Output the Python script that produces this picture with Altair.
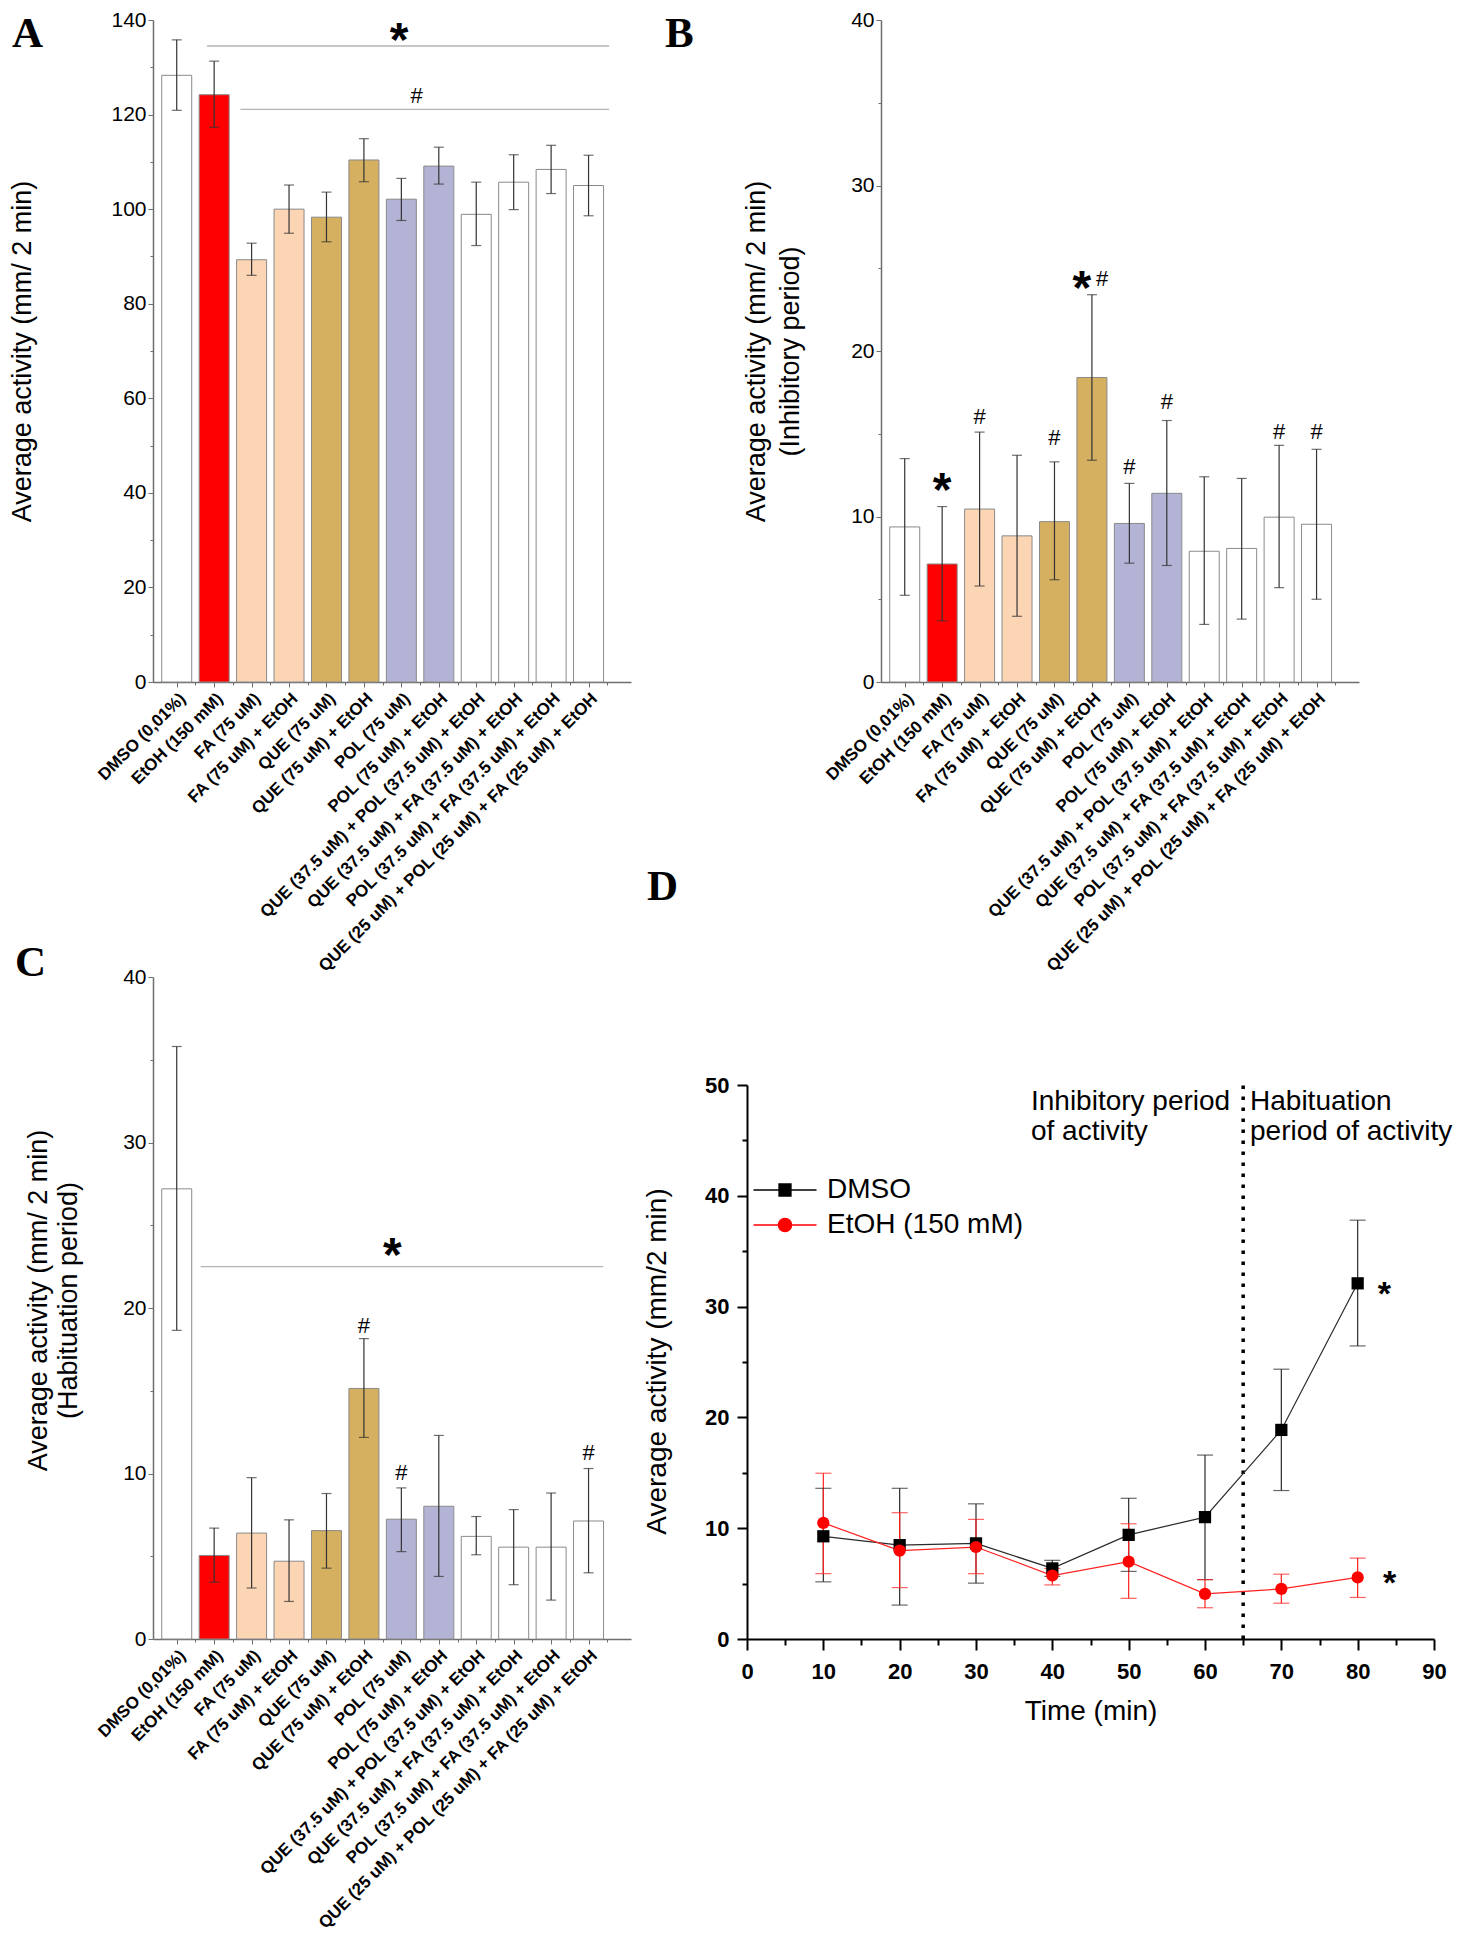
import json
import altair as alt
import pandas as pd

# ---------------- shared categories ----------------
CATEGORIES = [
    "DMSO (0,01%)", "EtOH (150 mM)", "FA (75 uM)", "FA (75 uM) + EtOH",
    "QUE (75 uM)", "QUE (75 uM) + EtOH", "POL (75 uM)", "POL (75 uM) + EtOH",
    "QUE (37.5 uM) + POL (37.5 uM) + EtOH", "QUE (37.5 uM) + FA (37.5 uM) + EtOH",
    "POL (37.5 uM) + FA (37.5 uM) + EtOH", "QUE (25 uM) + POL (25 uM) + FA (25 uM) + EtOH",
]
POSITIONS = list(range(1, 13))
BAR_FILLS = ["#ffffff", "#ff0000", "#fcd5b5", "#fcd5b5", "#d4b060", "#d4b060",
             "#b3b3d6", "#b3b3d6", "#ffffff", "#ffffff", "#ffffff", "#ffffff"]

# ---------------- panel A ----------------
A_MEAN = [128.3, 124.2, 89.3, 100.0, 98.3, 110.4, 102.1, 109.1, 98.9, 105.7, 108.4, 105.0]
A_HI = [135.8, 131.3, 92.8, 105.1, 103.6, 114.9, 106.5, 113.1, 105.7, 111.5, 113.5, 111.4]
A_LO = [120.9, 117.3, 86.0, 94.9, 93.1, 105.8, 97.6, 105.3, 92.3, 99.9, 103.3, 98.6]
A_LINE_X1 = [1.81, 2.70]
A_LINE_X2 = [12.55, 12.55]
A_LINE_Y = [134.5, 121.1]
A_STAR_X = [6.94]
A_STAR_Y = [137.5]
A_HASH_X = [7.41]
A_HASH_Y = [124.2]

# ---------------- panel B ----------------
B_MEAN = [9.37, 7.13, 10.45, 8.83, 9.69, 18.4, 9.58, 11.4, 7.9, 8.07, 9.96, 9.53]
B_HI = [13.5, 10.6, 15.1, 13.7, 13.3, 23.4, 12.0, 15.8, 12.4, 12.3, 14.3, 14.06]
B_LO = [5.24, 3.7, 5.8, 3.97, 6.18, 13.4, 7.18, 7.04, 3.48, 3.8, 5.7, 5.0]
B_STAR_X = [2.0, 5.73]
B_STAR_Y = [12.1, 24.3]
B_HASH_X = [3, 5, 6.27, 7, 8, 11, 12]
B_HASH_Y = [16.1, 14.8, 24.4, 13.06, 17.0, 15.17, 15.17]

# ---------------- panel C ----------------
C_MEAN = [27.2, 5.05, 6.4, 4.7, 6.55, 15.14, 7.24, 8.02, 6.2, 5.55, 5.55, 7.13]
C_HI = [35.8, 6.7, 9.75, 7.2, 8.79, 18.15, 9.13, 12.3, 7.4, 7.82, 8.82, 10.3]
C_LO = [18.65, 3.43, 3.08, 2.27, 4.28, 12.18, 5.28, 3.78, 5.09, 3.28, 2.35, 4.0]
C_LINE_X1 = [1.64]
C_LINE_X2 = [12.39]
C_LINE_Y = [22.5]
C_STAR_X = [6.76]
C_STAR_Y = [23.7]
C_HASH_X = [6, 7, 12]
C_HASH_Y = [19.0, 10.1, 11.3]

# ---------------- panel D ----------------
SERIES = ["DMSO", "EtOH (150 mM)"]
TIME = [10, 20, 30, 40, 50, 60, 70, 80]
DMSO_MEAN = [9.27, 8.47, 8.63, 6.37, 9.4, 11.0, 18.87, 32.1]
DMSO_HI = [13.6, 13.6, 12.2, 7.1, 12.7, 16.6, 24.35, 37.8]
DMSO_LO = [5.16, 3.06, 5.04, 5.65, 6.1, 5.36, 13.4, 26.45]
ETOH_MEAN = [10.48, 7.98, 8.3, 5.73, 6.98, 4.07, 4.52, 5.56]
ETOH_HI = [14.96, 11.4, 10.8, 6.37, 10.4, 5.36, 5.85, 7.3]
ETOH_LO = [5.9, 4.64, 5.9, 4.88, 3.67, 2.82, 3.23, 3.75]
D_DIVIDER_X = [65]
D_DIVIDER_Y = [0, 50.5]
D_NOTE_TEXT = ["Inhibitory period", "of activity", "Habituation", "period of activity"]
D_NOTE_X = [37.2, 37.2, 65.9, 65.9]
D_NOTE_Y = [47.7, 45.0, 47.7, 45.0]
D_STAR_X = [83.5, 84.2]
D_STAR_Y = [31.9, 5.8]

# ---------------- style ----------------
FONT = "Liberation Sans"
SERIF = "Liberation Serif"
AXIS_GRAY = "#6e6e6e"
BAR_STROKE = "#8a8a8a"
ERR = "#333333"
PW, PH = 478, 662
D_SHIFT = 134          # panel D plot starts this far left of its grid cell
D_W = 687


def letter_layer(letter, lx, ly):
    return alt.Chart(pd.DataFrame({"t": [letter]})).mark_text(
        font=SERIF, fontSize=43, fontWeight="bold", align="left",
        baseline="alphabetic", color="black"
    ).encode(x=alt.value(lx), y=alt.value(ly), text="t:N")


def bar_panel(letter, lxy, mean, lo, hi, ymax, major, minor, title, title_x,
              title_y, title_lh, lines, stars, hashes):
    df = pd.DataFrame({"pos": POSITIONS, "mean": mean, "lo": lo, "hi": hi, "fill": BAR_FILLS})
    xs = alt.Scale(domain=[0.5, 13.0], nice=False, zero=False)
    ys = alt.Scale(domain=[0, ymax], nice=False)
    labels_js = json.dumps(CATEGORIES)
    xaxis = alt.Axis(
        values=POSITIONS,
        labelExpr=f"{labels_js}[datum.value - 1]",
        labelAngle=-45, labelFont=FONT, labelFontWeight="bold", labelFontSize=17,
        labelColor="black", labelOverlap=False, labelFlush=False, labelPadding=3,
        labelLimit=800,
        tickSize=5, tickColor=AXIS_GRAY,
        domainColor=AXIS_GRAY, domainWidth=1.5, grid=False, title=None,
    )
    xminor = alt.Axis(values=[p + 0.5 for p in POSITIONS], labels=False, domain=False,
                      tickSize=3, tickColor=AXIS_GRAY, grid=False, title=None, orient="bottom")
    ykw = dict(
        values=list(range(0, ymax + 1, major)),
        labelFont=FONT, labelFontSize=21, labelColor="black", labelOverlap=False,
        labelFlush=False, labelPadding=2,
        tickSize=5, tickColor=AXIS_GRAY,
        domainColor=AXIS_GRAY, domainWidth=1.5, grid=False,
        title=title, titleFont=FONT, titleFontSize=27, titleFontWeight="normal",
        titleColor="black", titleX=title_x, titleBaseline="middle", titleLineHeight=title_lh,
    )
    if title_y is not None:
        ykw["titleY"] = title_y
    yaxis = alt.Axis(**ykw)
    yminor = alt.Axis(values=[v for v in range(0, ymax + 1, minor) if v % major],
                      labels=False, domain=False, tickSize=3, tickColor=AXIS_GRAY,
                      grid=False, title=None, orient="left")

    bars = alt.Chart(df).mark_bar(orient="vertical", width=30, stroke=BAR_STROKE, strokeWidth=1).encode(
        x=alt.X("pos:Q", scale=xs, axis=xaxis),
        y=alt.Y("mean:Q", scale=ys, axis=yaxis),
        fill=alt.Fill("fill:N", scale=None),
    )
    err = alt.Chart(df).mark_rule(color=ERR, strokeWidth=1.2).encode(
        x=alt.X("pos:Q", scale=xs, axis=xminor),
        y=alt.Y("lo:Q", scale=ys, axis=yminor), y2="hi:Q",
    )
    caps = [
        alt.Chart(df).mark_tick(orient="horizontal", size=10, thickness=1.2, color=ERR).encode(
            x=alt.X("pos:Q", scale=xs, axis=None),
            y=alt.Y(f"{c}:Q", scale=ys, axis=None),
        ) for c in ("lo", "hi")
    ]
    layers = [bars, err] + caps
    if lines is not None:
        ldf = pd.DataFrame({"x1": lines[0], "x2": lines[1], "y": lines[2]})
        layers.append(alt.Chart(ldf).mark_rule(color="#b4b4b4", strokeWidth=1.3).encode(
            x=alt.X("x1:Q", scale=xs, axis=None), x2="x2:Q",
            y=alt.Y("y:Q", scale=ys, axis=None)))
    sdf = pd.DataFrame({"x": stars[0], "y": stars[1]})
    layers.append(alt.Chart(sdf).mark_text(
        text="*", font=FONT, fontSize=48, fontWeight="bold", baseline="alphabetic",
        dy=24, color="black").encode(
        x=alt.X("x:Q", scale=xs, axis=None), y=alt.Y("y:Q", scale=ys, axis=None)))
    hdf = pd.DataFrame({"x": hashes[0], "y": hashes[1]})
    layers.append(alt.Chart(hdf).mark_text(
        text="#", font=FONT, fontSize=22, baseline="alphabetic", dy=8, color="black").encode(
        x=alt.X("x:Q", scale=xs, axis=None), y=alt.Y("y:Q", scale=ys, axis=None)))
    layers.append(letter_layer(letter, lxy[0], lxy[1]))
    return alt.layer(*layers).resolve_axis(x="independent", y="independent").properties(
        width=PW, height=PH)


panel_a = bar_panel("A", (-141, 27), A_MEAN, A_LO, A_HI, 140, 20, 10,
                    "Average activity (mm/ 2 min)", -131, None, 30,
                    (A_LINE_X1, A_LINE_X2, A_LINE_Y), (A_STAR_X, A_STAR_Y), (A_HASH_X, A_HASH_Y))
panel_b = bar_panel("B", (-216, 27), B_MEAN, B_LO, B_HI, 40, 10, 5,
                    ["Average activity (mm/ 2 min)", "(Inhibitory period)"], -125, None, 34,
                    None, (B_STAR_X, B_STAR_Y), (B_HASH_X, B_HASH_Y))
panel_c = bar_panel("C", (-138, -1), C_MEAN, C_LO, C_HI, 40, 10, 5,
                    ["Average activity (mm/ 2 min)", "(Habituation period)"], -115, 323, 30,
                    (C_LINE_X1, C_LINE_X2, C_LINE_Y), (C_STAR_X, C_STAR_Y), (C_HASH_X, C_HASH_Y))

# ---------------- panel D ----------------
rows = []
for s, ms, los, his in [(SERIES[0], DMSO_MEAN, DMSO_LO, DMSO_HI), (SERIES[1], ETOH_MEAN, ETOH_LO, ETOH_HI)]:
    for t, m, l, h in zip(TIME, ms, los, his):
        rows.append({"series": s, "time": t, "mean": m, "lo": l, "hi": h})
d_df = pd.DataFrame(rows)

dxs = alt.Scale(domain=[0, 90], nice=False, zero=False, range=[-D_SHIFT, D_W - D_SHIFT])
dys = alt.Scale(domain=[0, 50], nice=False, range=[PH, PH - 554])
line_colors = alt.Scale(domain=SERIES, range=["#2a2a2a", "#ff2020"])
point_colors = alt.Scale(domain=SERIES, range=["#000000", "#ff0000"])

dxaxis = alt.Axis(
    values=list(range(0, 91, 10)),
    labelFont=FONT, labelFontSize=22, labelFontWeight="bold", labelColor="black",
    labelPadding=11, labelOverlap=False, labelFlush=False,
    tickSize=11, tickWidth=2, tickColor="black",
    domainColor="black", domainWidth=2, grid=False,
    title="Time (min)", titleFont=FONT, titleFontSize=28, titleFontWeight="normal",
    titleColor="black", titleY=72, titleBaseline="middle",
)
dxminor = alt.Axis(values=list(range(5, 91, 10)), labels=False, domain=False, tickSize=6,
                   tickWidth=2, tickColor="black", grid=False, title=None, orient="bottom")
dyaxis = alt.Axis(
    values=list(range(0, 51, 10)), offset=D_SHIFT,
    labelFont=FONT, labelFontSize=22, labelFontWeight="bold", labelColor="black",
    labelPadding=8, labelOverlap=False, labelFlush=False,
    tickSize=10, tickWidth=2, tickColor="black",
    domainColor="black", domainWidth=2, grid=False,
    title="Average activity (mm/2 min)", titleFont=FONT, titleFontSize=28,
    titleFontWeight="normal", titleColor="black", titleX=-90, titleY=384,
    titleBaseline="middle",
)
dyminor = alt.Axis(values=list(range(5, 51, 10)), offset=D_SHIFT, labels=False, domain=False,
                   tickSize=5, tickWidth=2, tickColor="black", grid=False, title=None, orient="left")

div_df = pd.DataFrame({"x": D_DIVIDER_X, "y0": [D_DIVIDER_Y[0]], "y1": [D_DIVIDER_Y[1]]})
divider = alt.Chart(div_df).mark_rule(color="black", strokeWidth=3.5, strokeDash=[3.5, 7.5]).encode(
    x=alt.X("x:Q", scale=dxs, axis=dxaxis),
    y=alt.Y("y0:Q", scale=dys, axis=dyaxis), y2="y1:Q",
)
d_err = alt.Chart(d_df).mark_rule(strokeWidth=1.2).encode(
    x=alt.X("time:Q", scale=dxs, axis=dxminor), y=alt.Y("lo:Q", scale=dys, axis=dyminor), y2="hi:Q",
    color=alt.Color("series:N", scale=line_colors, legend=None),
)
d_caps = [
    alt.Chart(d_df).mark_tick(orient="horizontal", size=16, thickness=1.2).encode(
        x=alt.X("time:Q", scale=dxs, axis=None), y=alt.Y(f"{c}:Q", scale=dys, axis=None),
        color=alt.Color("series:N", scale=line_colors, legend=None),
    ) for c in ("lo", "hi")
]
d_line = alt.Chart(d_df).mark_line(strokeWidth=1.2).encode(
    x=alt.X("time:Q", scale=dxs, axis=None), y=alt.Y("mean:Q", scale=dys, axis=None),
    color=alt.Color("series:N", scale=line_colors, legend=None),
)
d_pts = alt.Chart(d_df).mark_point(filled=True, size=150, opacity=1).encode(
    x=alt.X("time:Q", scale=dxs, axis=None), y=alt.Y("mean:Q", scale=dys, axis=None),
    color=alt.Color("series:N", scale=point_colors, legend=None),
    shape=alt.Shape("series:N", scale=alt.Scale(domain=SERIES, range=["square", "circle"]), legend=None),
)

SQ_PATH = "M-5.25,0L5.25,0M-1,-1L1,-1L1,1L-1,1Z"
CI_PATH = "M-5.25,0L5.25,0M1.1,0A1.1,1.1,0,1,1,-1.1,0A1.1,1.1,0,1,1,1.1,0Z"
leg = alt.Legend(title=None, orient="none", legendX=37 - D_SHIFT - 13, legendY=199,
                 symbolSize=144, symbolStrokeWidth=1.3, labelFont=FONT,
                 labelFontSize=28, labelColor="black", labelOffset=28, labelLimit=400,
                 rowPadding=7, padding=0)
d_legend = alt.Chart(d_df).transform_filter("false").mark_point(filled=True, opacity=1).encode(
    x=alt.X("time:Q", scale=dxs, axis=None), y=alt.Y("mean:Q", scale=dys, axis=None),
    color=alt.Color("series:N", scale=point_colors, legend=leg),
    stroke=alt.Stroke("series:N", scale=point_colors, legend=leg),
    shape=alt.Shape("series:N", scale=alt.Scale(domain=SERIES, range=[SQ_PATH, CI_PATH]), legend=leg),
)
note_df = pd.DataFrame({"t": D_NOTE_TEXT, "x": D_NOTE_X, "y": D_NOTE_Y})
d_notes = alt.Chart(note_df).mark_text(font=FONT, fontSize=28, align="left", baseline="alphabetic",
                                       color="black").encode(
    x=alt.X("x:Q", scale=dxs, axis=None), y=alt.Y("y:Q", scale=dys, axis=None), text="t:N")
dstar_df = pd.DataFrame({"x": D_STAR_X, "y": D_STAR_Y})
d_stars = alt.Chart(dstar_df).mark_text(text="*", font=FONT, fontSize=34, fontWeight="bold",
                                        baseline="alphabetic", dy=19, color="black").encode(
    x=alt.X("x:Q", scale=dxs, axis=None), y=alt.Y("y:Q", scale=dys, axis=None))

panel_d = alt.layer(
    divider, d_err, *d_caps, d_line, d_pts, d_legend, d_notes, d_stars,
    letter_layer("D", -100 - D_SHIFT, -77),
).resolve_scale(shape="independent", color="independent", stroke="independent").resolve_axis(
    x="independent", y="independent").properties(width=D_W - D_SHIFT, height=PH)

# Fixed placement: the first plot's top-left corner sits at (153, 20) on the page.
chart = alt.concat(
    panel_a, panel_b, panel_c, panel_d, columns=2,
    spacing={"row": 295, "column": 250}, bounds="flush",
).properties(
    autosize=alt.AutoSizeParams(type="none"),
    padding={"left": 145, "top": 12, "right": 1300, "bottom": 1922},
).configure_view(stroke=None)

chart.save("out.html", embed_options={"renderer": "svg", "actions": False})
